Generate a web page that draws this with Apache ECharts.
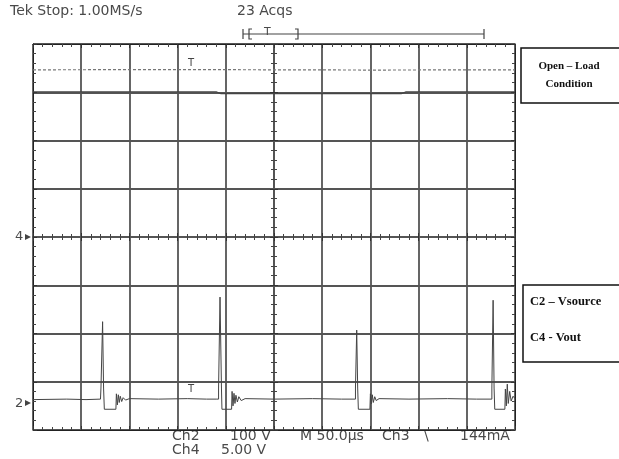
<!DOCTYPE html>
<html>
<head>
<meta charset="utf-8">
<script src="https://cdn.jsdelivr.net/npm/echarts@6/dist/echarts.min.js"></script>
<style>
html,body{margin:0;padding:0;background:#fff;}
#chart{width:619px;height:459px;}
</style>
</head>
<body>
<div id="chart"></div>
<script>
// time axis in microseconds relative to screen centre (50 us/div), vertical in divisions
var xTicks = [-250, -200, -150, -100, -50, 0, 50, 100, 150, 200, 250];
var yTicks = [-4, -3, -2, -1, 0, 1, 2, 3, 4];

// upper solid trace
var upperSolid = [[-250, 3.01], [-60, 3.01], [-55, 2.97], [132, 2.97], [137, 3.01], [250, 3.01]];
// upper dotted trace
var upperDotted = [[-250, 3.465], [-100, 3.47], [0, 3.465], [100, 3.46], [250, 3.465]];
// lower trace with switching spikes
var lowerTrace = [
  [-250, -3.37], [-215, -3.36], [-195, -3.37], [-180, -3.36],
  [-179.5, -3.36], [-179.5, -3.13], [-177.8, -3.13], [-177.8, -1.755], [-176.8, -1.755], [-176.8, -3.13],
  [-176, -3.57], [-164, -3.57], [-163.5, -3.25], [-162.5, -3.48], [-161.5, -3.27], [-160.5, -3.43],
  [-159.5, -3.3], [-158, -3.41], [-156.5, -3.33], [-154, -3.38], [-150, -3.35],
  [-120, -3.36], [-90, -3.35], [-70, -3.36], [-60, -3.36],
  [-57.5, -3.36], [-57.5, -3.13], [-56, -3.13], [-56, -1.245], [-54.5, -1.245], [-54.5, -3.13],
  [-54, -3.57], [-44, -3.57], [-43.5, -3.2], [-42.5, -3.5], [-41.5, -3.24], [-40.5, -3.45],
  [-39.5, -3.28], [-38, -3.42], [-36.5, -3.31], [-34, -3.39], [-30, -3.35],
  [0, -3.36], [40, -3.35], [70, -3.36], [84.5, -3.36],
  [84.5, -3.13], [85.8, -3.13], [85.8, -1.93], [86.8, -1.93], [86.8, -3.13],
  [87.5, -3.57], [99.5, -3.57], [100, -3.25], [101, -3.46], [102, -3.27], [103, -3.43],
  [104.5, -3.31], [106, -3.39], [109, -3.35],
  [140, -3.36], [180, -3.35], [210, -3.36], [226, -3.36],
  [226, -3.13], [227.3, -3.13], [227.3, -1.31], [228.3, -1.31], [228.3, -3.13],
  [229, -3.57], [239.5, -3.57], [240, -3.15], [241, -3.5], [242, -3.05], [243, -3.45],
  [244.5, -3.2], [246, -3.4], [248, -3.3], [250, -3.35]
];

var headerLeft = 'Tek Stop: 1.00MS/s';
var headerMid = '23 Acqs';
var footRow1 = ['Ch2', '100 V', 'M 50.0\u00b5s', 'Ch3', '\\', '144mA'];
var footRow2 = ['Ch4', '5.00 V'];
var legendTop = ['Open \u2013 Load', 'Condition'];
var legendBottom = ['C2 \u2013 Vsource', 'C4 - Vout'];
var channelMarks = ['4', '2'];

var chart = echarts.init(document.getElementById('chart'), null, {renderer: 'canvas'});

var gridColor = '#555';
function xAx(pos, onZero, split) {
  return {
    type: 'value', min: xTicks[0], max: xTicks[xTicks.length - 1], interval: 50,
    position: pos,
    axisLine: {show: true, onZero: onZero, onZeroAxisIndex: 0,
      lineStyle: {color: onZero ? gridColor : '#222', width: onZero ? 1.8 : 1}},
    axisTick: {show: true, inside: true, length: 4, lineStyle: {color: '#333'}},
    minorTick: {show: true, splitNumber: 5, length: 3, lineStyle: {color: '#444'}},
    axisLabel: {show: false},
    splitLine: {show: split, lineStyle: {color: gridColor, width: 1.8}},
    minorSplitLine: {show: false}
  };
}
function yAx(pos, onZero, split) {
  return {
    type: 'value', min: yTicks[0], max: yTicks[yTicks.length - 1], interval: 1,
    position: pos,
    axisLine: {show: true, onZero: onZero, onZeroAxisIndex: 0,
      lineStyle: {color: onZero ? gridColor : '#222', width: onZero ? 1.8 : 1}},
    axisTick: {show: true, inside: true, length: 4, lineStyle: {color: '#333'}},
    minorTick: {show: true, splitNumber: 5, length: 3, lineStyle: {color: '#444'}},
    axisLabel: {show: false},
    splitLine: {show: split, lineStyle: {color: gridColor, width: 1.8}},
    minorSplitLine: {show: false}
  };
}

var scopeFont = '14px "DejaVu Sans", "Liberation Sans", sans-serif';
var serifFont = 'bold 11px "Liberation Serif", "Times New Roman", serif';
var serifFont2 = 'bold 12.5px "Liberation Serif", "Times New Roman", serif';
var txtColor = '#4a4a4a';

var graphics = [
  {type: 'text', left: 10, top: 4, style: {text: headerLeft, font: scopeFont, fill: txtColor}},
  {type: 'text', left: 237, top: 4, style: {text: headerMid, font: scopeFont, fill: txtColor}},
  // record bar
  {type: 'line', shape: {x1: 243, y1: 34, x2: 484, y2: 34}, style: {stroke: '#444', lineWidth: 1.2}},
  {type: 'line', shape: {x1: 243, y1: 29, x2: 243, y2: 39}, style: {stroke: '#444', lineWidth: 1.2}},
  {type: 'line', shape: {x1: 484, y1: 29, x2: 484, y2: 39}, style: {stroke: '#444', lineWidth: 1.2}},
  {type: 'polyline', shape: {points: [[252, 29], [249, 29], [249, 39], [252, 39]]}, style: {stroke: '#444', fill: null, lineWidth: 1.2}},
  {type: 'polyline', shape: {points: [[295, 29], [298, 29], [298, 39], [295, 39]]}, style: {stroke: '#444', fill: null, lineWidth: 1.2}},
  {type: 'text', left: 264, top: 27, style: {text: 'T', font: '11px "DejaVu Sans", sans-serif', fill: txtColor}},
  // trigger markers
  {type: 'text', left: 188, top: 58, style: {text: 'T', font: '10px "DejaVu Sans", sans-serif', fill: '#444'}},
  {type: 'text', left: 188, top: 384, style: {text: 'T', font: '10px "DejaVu Sans", sans-serif', fill: '#444'}},
  // channel ground markers
  {type: 'text', left: 15, top: 230, style: {text: channelMarks[0], font: '13px "DejaVu Sans", sans-serif', fill: txtColor}},
  {type: 'polygon', shape: {points: [[25, 234], [31, 237], [25, 240]]}, style: {fill: '#444'}},
  {type: 'text', left: 15, top: 397, style: {text: channelMarks[1], font: '13px "DejaVu Sans", sans-serif', fill: txtColor}},
  {type: 'polygon', shape: {points: [[25, 400], [31, 403], [25, 406]]}, style: {fill: '#444'}},
  // footer
  {type: 'text', left: 172, top: 429, style: {text: footRow1[0], font: scopeFont, fill: txtColor}},
  {type: 'text', left: 230, top: 429, style: {text: footRow1[1], font: scopeFont, fill: txtColor}},
  {type: 'text', left: 300, top: 429, style: {text: footRow1[2], font: scopeFont, fill: txtColor}},
  {type: 'text', left: 382, top: 429, style: {text: footRow1[3], font: scopeFont, fill: txtColor}},
  {type: 'text', left: 424, top: 429, style: {text: footRow1[4], font: scopeFont, fill: txtColor}},
  {type: 'text', left: 460, top: 429, style: {text: footRow1[5], font: scopeFont, fill: txtColor}},
  {type: 'text', left: 172, top: 443, style: {text: footRow2[0], font: scopeFont, fill: txtColor}},
  {type: 'text', left: 221, top: 443, style: {text: footRow2[1], font: scopeFont, fill: txtColor}},
  // legend boxes
  {type: 'rect', shape: {x: 521, y: 48, width: 110, height: 55}, style: {fill: '#fff', stroke: '#111', lineWidth: 1.5}},
  {type: 'text', x: 569, y: 66, style: {text: legendTop[0], font: serifFont, fill: '#111', align: 'center', verticalAlign: 'middle'}},
  {type: 'text', x: 569, y: 84, style: {text: legendTop[1], font: serifFont, fill: '#111', align: 'center', verticalAlign: 'middle'}},
  {type: 'rect', shape: {x: 523, y: 285, width: 110, height: 77}, style: {fill: '#fff', stroke: '#111', lineWidth: 1.5}},
  {type: 'text', x: 530, y: 302, style: {text: legendBottom[0], font: serifFont2, fill: '#111', align: 'left', verticalAlign: 'middle'}},
  {type: 'text', x: 530, y: 338, style: {text: legendBottom[1], font: serifFont2, fill: '#111', align: 'left', verticalAlign: 'middle'}}
];

var option = {
  animation: false,
  backgroundColor: '#fff',
  grid: {left: 33, top: 44, right: 104, bottom: 29, containLabel: false},
  xAxis: [xAx('bottom', false, true), xAx('top', false, false), xAx('bottom', true, false), xAx('top', true, false)],
  yAxis: [yAx('left', false, true), yAx('right', false, false), yAx('left', true, false), yAx('right', true, false)],
  series: [
    {type: 'line', data: upperDotted, symbol: 'none', xAxisIndex: 0, yAxisIndex: 0,
      lineStyle: {color: '#777', width: 1.2, type: [3, 2]}},
    {type: 'line', data: upperSolid, symbol: 'none', xAxisIndex: 0, yAxisIndex: 0,
      lineStyle: {color: '#444', width: 1.2}},
    {type: 'line', data: lowerTrace, symbol: 'none', xAxisIndex: 0, yAxisIndex: 0,
      lineStyle: {color: '#444', width: 1}}
  ],
  graphic: graphics
};
chart.setOption(option);
</script>
</body>
</html>
